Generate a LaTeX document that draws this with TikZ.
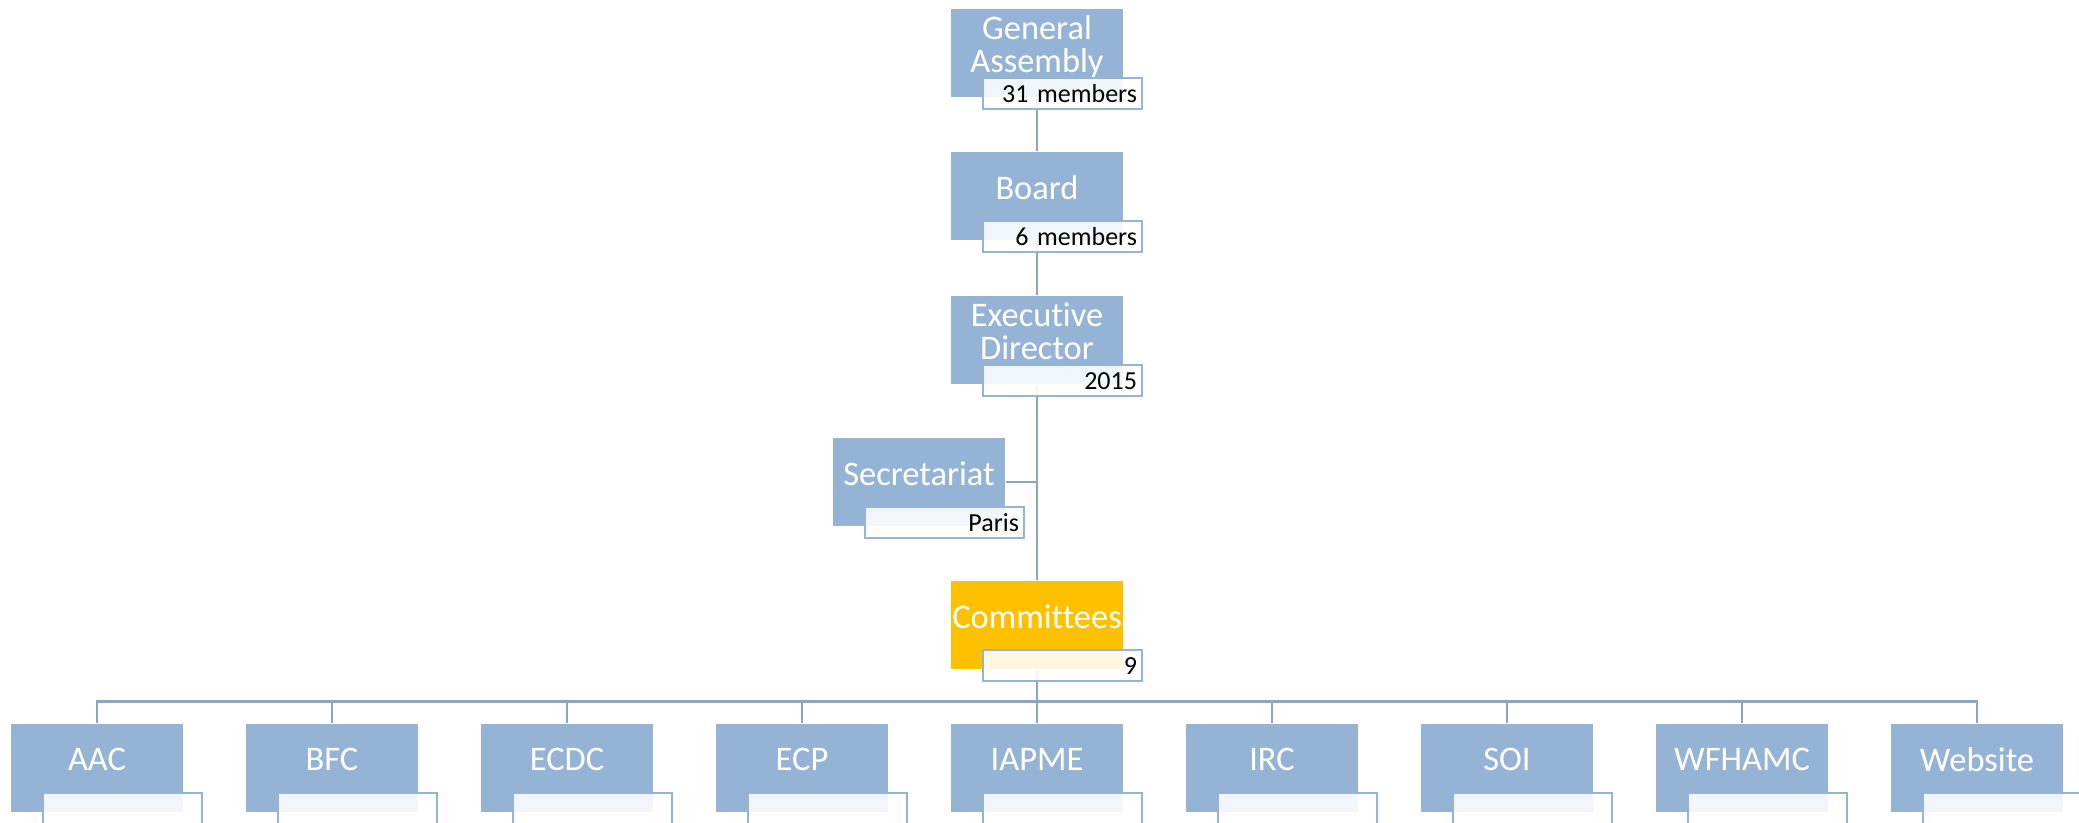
\documentclass[tikz,border=0pt]{standalone}
\usepackage{fontspec}
\setmainfont{Carlito}[Ligatures=NoCommon]
\usetikzlibrary{backgrounds}

\definecolor{unitblue}{RGB}{149,180,213}
\definecolor{leadgold}{RGB}{255,192,0}
\definecolor{linkblue}{RGB}{137,166,194}

\tikzset{
    unit/.style={rectangle, fill=unitblue, minimum width=1.72cm, minimum height=0.88cm,
        inner sep=0pt, text=white, align=center, text depth=0.17cm,
        font=\fontsize{9.8}{9.4}\selectfont},
    lead/.style={unit, fill=leadgold},
    note/.style={rectangle, draw=unitblue, line width=0.6pt, fill=white, fill opacity=0.88,
        text opacity=1, minimum width=1.59cm, minimum height=0.31cm, text width=1.49cm,
        inner xsep=0.05cm, inner ysep=0pt, align=right, text height=0.17cm, text depth=0pt,
        font=\fontsize{7.4}{8}\selectfont},
    link/.style={draw=linkblue, line width=0.75pt}
}

\begin{document}
\begin{tikzpicture}
        \useasboundingbox (0, 0) rectangle (20.79, -8.22);

        % upper chain
        \node[unit] (ga) at (10.37, -0.53) {General\\Assembly};
        \node[note] (gan) at ([shift={(0.255, -0.405)}]ga.center) {31 members};
        \node[unit] (board) at (10.37, -1.96) {Board};
        \node[note] (boardn) at ([shift={(0.255, -0.405)}]board.center) {6 members};
        \node[unit] (exec) at (10.37, -3.40) {Executive\\Director};
        \node[note] (execn) at ([shift={(0.255, -0.405)}]exec.center) {2015};
        \node[unit] (sec) at (9.19, -4.82) {Secretariat};
        \node[note] (secn) at ([shift={(0.255, -0.405)}]sec.center) {Paris};
        \node[lead] (com) at (10.37, -6.25) {Committees};
        \node[note] (comn) at ([shift={(0.255, -0.405)}]com.center) {9};

        % committees row
        \node[unit] (aac) at (0.97, -7.68) {AAC};
        \node[note] (aacn) at ([shift={(0.255, -0.405)}]aac.center) {};
        \node[unit] (bfc) at (3.32, -7.68) {BFC};
        \node[note] (bfcn) at ([shift={(0.255, -0.405)}]bfc.center) {};
        \node[unit] (ecdc) at (5.67, -7.68) {ECDC};
        \node[note] (ecdcn) at ([shift={(0.255, -0.405)}]ecdc.center) {};
        \node[unit] (ecp) at (8.02, -7.68) {ECP};
        \node[note] (ecpn) at ([shift={(0.255, -0.405)}]ecp.center) {};
        \node[unit] (iapme) at (10.37, -7.68) {IAPME};
        \node[note] (iapmen) at ([shift={(0.255, -0.405)}]iapme.center) {};
        \node[unit] (irc) at (12.72, -7.68) {IRC};
        \node[note] (ircn) at ([shift={(0.255, -0.405)}]irc.center) {};
        \node[unit] (soi) at (15.07, -7.68) {SOI};
        \node[note] (soin) at ([shift={(0.255, -0.405)}]soi.center) {};
        \node[unit] (wfhamc) at (17.42, -7.68) {WFHAMC};
        \node[note] (wfhamcn) at ([shift={(0.255, -0.405)}]wfhamc.center) {};
        \node[unit] (web) at (19.77, -7.68) {Website};
        \node[note] (webn) at ([shift={(0.255, -0.405)}]web.center) {};

        % lines go under the boxes
        \begin{pgfonlayer}{background}
        \draw[link] (ga) -- (board);
        \draw[link] (board) -- (exec);
        \draw[link] (exec) -- (com);
        \draw[link] (sec.east) -- (sec.east -| exec.south);
        \draw[link] (com.south) |- ([yshift=0.22cm]aac.north) -- (aac.north);
        \draw[link] (com.south) |- ([yshift=0.22cm]bfc.north) -- (bfc.north);
        \draw[link] (com.south) |- ([yshift=0.22cm]ecdc.north) -- (ecdc.north);
        \draw[link] (com.south) |- ([yshift=0.22cm]ecp.north) -- (ecp.north);
        \draw[link] (com.south) |- ([yshift=0.22cm]iapme.north) -- (iapme.north);
        \draw[link] (com.south) |- ([yshift=0.22cm]irc.north) -- (irc.north);
        \draw[link] (com.south) |- ([yshift=0.22cm]soi.north) -- (soi.north);
        \draw[link] (com.south) |- ([yshift=0.22cm]wfhamc.north) -- (wfhamc.north);
        \draw[link] (com.south) |- ([yshift=0.22cm]web.north) -- (web.north);
        \end{pgfonlayer}
    \end{tikzpicture}
\end{document}
